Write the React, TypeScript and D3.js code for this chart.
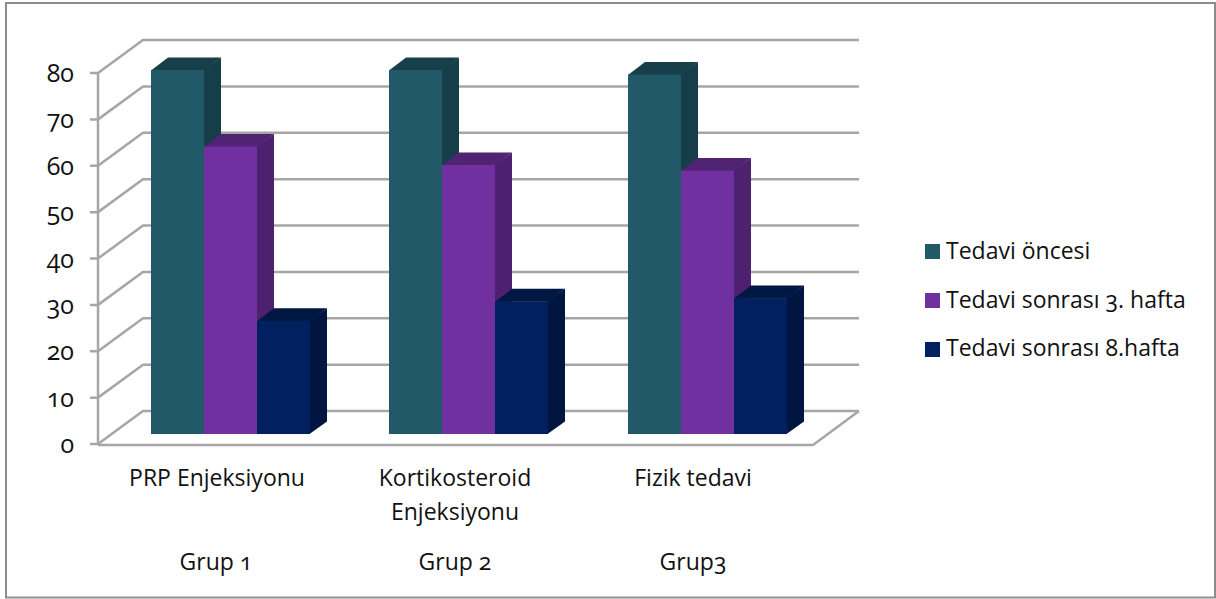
import React from "react";
import * as d3 from "d3";

const groups = ["PRP Enjeksiyonu", "Kortikosteroid Enjeksiyonu", "Fizik tedavi"];
const groupNames = ["Grup 1", "Grup 2", "Grup3"];
const seriesNames = ["Tedavi öncesi", "Tedavi sonrası 3. hafta", "Tedavi sonrası 8.hafta"];
const before = [78.5, 78.5, 77.5];
const week3 = [62, 58, 56.8];
const week8 = [24.4, 28.6, 29.3];
const ticks = [0, 10, 20, 30, 40, 50, 60, 70, 80];
const front = ["#215968", "#7030A0", "#002060"];
const side = ["#163E49", "#4E2170", "#001640"];
const topc = ["#173F4A", "#502373", "#001743"];

const GRID = "#a6a6a6";
const FONT = "'Open Sans', sans-serif";
const values = [before, week3, week8];

export default function App() {
  const yFront = d3.scaleLinear().domain([0, 80]).range([444, 73]);
  const yBack = d3.scaleLinear().domain([0, 80]).range([411, 40]);
  const yBar = d3.scaleLinear().domain([0, 80]).range([434, 63]);
  const x0 = d3.scaleBand<number>().domain([0, 1, 2]).range([112, 827.5]);
  const barW = 53;
  const dx = 17, dy = -12.5;
  const cx = (g: number) => x0(g)! + x0.bandwidth() / 2;
  const labelStyle: React.CSSProperties = { fontFamily: FONT, fontSize: 23, fill: "#111", fontFeatureSettings: "'onum'" };
  return (
    <svg width={1216} height={599} style={{ position: "absolute", left: 0, top: 0, background: "#fff" }}>
      <rect x={6} y={3} width={1209} height={594.5} fill="#fff" stroke="#8c8c8c" strokeWidth={2} />
      <g fill="none" stroke={GRID} strokeWidth={2.5}>
        <line x1={98} x2={98} y1={yFront(0)} y2={yFront(80)} />
        {ticks.map((t) => (
          <path key={t} d={`M${90},${yFront(t)}H98L143,${yBack(t)}H859`} />
        ))}
        <path d={`M98,${yFront(0) + 1}H813L859,${yBack(0)}`} />
      </g>
      {ticks.map((t) => (
        <text key={t} x={74} y={yFront(t) + 9} textAnchor="end" style={{ fontFamily: FONT, fontSize: 25, fontFeatureSettings: "'onum'", fill: "#111" }}>{t}</text>
      ))}
      {groups.map((_, g) =>
        values.map((vals, s) => {
          const x = Math.round(cx(g) - 1.5 * barW - 1) + s * barW;
          const yt = yBar(vals[g]);
          const yb = yBar(0);
          return (
            <g key={`${g}-${s}`}>
              <path d={`M${x + barW - 0.5},${yt}L${x + barW + dx},${yt + dy}V${yb + dy}L${x + barW - 0.5},${yb}Z`} fill={side[s]} />
              <path d={`M${x},${yt + 0.5}L${x + dx},${yt + dy}h${barW}L${x + barW},${yt + 0.5}Z`} fill={topc[s]} />
              <rect x={x} y={yt} width={barW} height={yb - yt} fill={front[s]} />
            </g>
          );
        })
      )}
      <g style={labelStyle} textAnchor="middle">
        <text x={217} y={486}>{groups[0]}</text>
        <text x={455} y={486}>Kortikosteroid</text>
        <text x={455} y={520}>Enjeksiyonu</text>
        <text x={693} y={486}>{groups[2]}</text>
        <text x={216} y={570}>{groupNames[0]}</text>
        <text x={455} y={570}>{groupNames[1]}</text>
        <text x={693} y={570}>{groupNames[2]}</text>
      </g>
      {seriesNames.map((n, i) => (
        <g key={n}>
          <rect x={925} y={244 + i * 49} width={15} height={15} fill={front[i]} />
          <text x={946} y={259 + i * 48.5} style={labelStyle}>{n}</text>
        </g>
      ))}
    </svg>
  );
}
